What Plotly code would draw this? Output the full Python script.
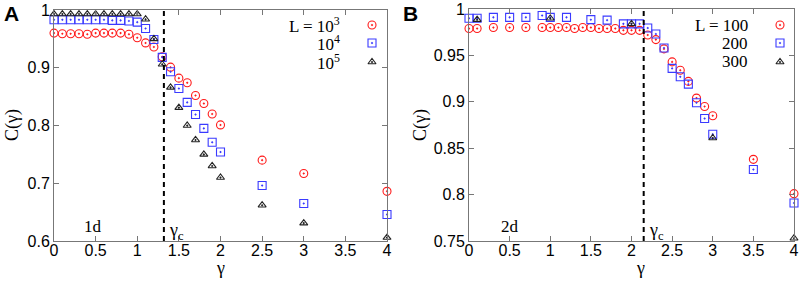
import plotly.graph_objects as go

# ---------------- data ----------------
# Panel A (1d)
xA = [0, 0.1, 0.2, 0.3, 0.4, 0.5, 0.6, 0.7, 0.8, 0.9, 1.0, 1.1, 1.2, 1.3, 1.4, 1.5,
      1.6, 1.7, 1.8, 1.9, 2.0, 2.5, 3.0, 4.0]
A_L1e3 = [0.960, 0.959, 0.959, 0.959, 0.958, 0.960, 0.960, 0.960, 0.960, 0.958, 0.952,
          0.943, 0.936, 0.919, 0.901, 0.882, 0.874, 0.852, 0.838, 0.820, 0.801, 0.740,
          0.717, 0.686]
A_L1e4 = [0.983, 0.983, 0.983, 0.983, 0.983, 0.983, 0.983, 0.982, 0.982, 0.981, 0.979,
          0.968, 0.949, 0.918, 0.893, 0.864, 0.840, 0.819, 0.795, 0.771, 0.754, 0.696,
          0.665, 0.646]
A_L1e5 = [0.993, 0.993, 0.993, 0.993, 0.993, 0.993, 0.993, 0.993, 0.993, 0.993, 0.993,
          0.984, 0.950, 0.906, 0.866, 0.831, 0.800, 0.775, 0.750, 0.730, 0.710, 0.662,
          0.631, 0.606]
gamma_c_A = 1.32

# Panel B (2d)
xB_100 = [0, 0.1, 0.3, 0.5, 0.7, 0.9, 1.0, 1.1, 1.2, 1.3, 1.4, 1.5, 1.6, 1.7, 1.8, 1.9,
          2.0, 2.1, 2.2, 2.3, 2.4, 2.5, 2.6, 2.7, 2.8, 2.9, 3.0, 3.5, 4.0]
B_L100 = [0.979, 0.979, 0.980, 0.980, 0.980, 0.980, 0.980, 0.980, 0.980, 0.979, 0.980,
          0.980, 0.979, 0.979, 0.979, 0.977, 0.977, 0.977, 0.972, 0.967, 0.957, 0.943,
          0.934, 0.922, 0.904, 0.895, 0.885, 0.838, 0.801]
xB_200 = [0, 0.1, 0.3, 0.5, 0.7, 0.9, 1.0, 1.2, 1.5, 1.7, 1.9, 2.0, 2.1, 2.2, 2.3, 2.4,
          2.5, 2.6, 2.7, 2.8, 2.9, 3.0, 3.5, 4.0]
B_L200 = [0.990, 0.990, 0.991, 0.991, 0.991, 0.993, 0.991, 0.991, 0.9885, 0.988, 0.984,
          0.984, 0.984, 0.9795, 0.973, 0.958, 0.936, 0.927, 0.919, 0.899, 0.882, 0.865,
          0.827, 0.791]
xB_300 = [0.1, 1.0, 2.0, 3.0, 4.0]
B_L300 = [0.9885, 0.990, 0.984, 0.861, 0.753]
gamma_c_B = 2.15

x_ticks = [0, 0.5, 1, 1.5, 2, 2.5, 3, 3.5, 4]
x_ticktext = ["0", "0.5", "1", "1.5", "2", "2.5", "3", "3.5", "4"]
yA_ticks = [0.6, 0.7, 0.8, 0.9, 1.0]
yA_ticktext = ["0.6", "0.7", "0.8", "0.9", "1"]
yB_ticks = [0.75, 0.8, 0.85, 0.9, 0.95, 1.0]
yB_ticktext = ["0.75", "0.8", "0.85", "0.9", "0.95", "1"]

legA = ["L = 10<sup>3</sup>", "10<sup>4</sup>", "10<sup>5</sup>"]
legB = ["L = 100", "200", "300"]

# ---------------- style ----------------
W, H = 803, 281
RED = "#ff1a1a"
BLUE = "#3a3aff"
BLK = "#222222"
AXC = "#777777"
SERIF = "Liberation Serif, Times New Roman, serif"
SANS = "Liberation Sans, Arial, sans-serif"

def px_x(p):
    return p / W

def px_y(p):
    return 1 - p / H

A_box = (54, 387, 10, 241)   # left, right, top, bottom in pixels
B_box = (469, 794, 9, 241)
A_yr = [0.6, 1.0]
B_yr = [0.75, 1.0]

def to_data(box, yr, px, py):
    l, r, t, b = box
    return (px - l) / (r - l) * 4.0, yr[0] + (b - py) / (b - t) * (yr[1] - yr[0])

fig = go.Figure()

def mk(sym, color, size):
    return dict(symbol=sym, size=size, color=color, line=dict(color=color, width=1.1))

series = [
    ("x", "y", xA, A_L1e3, "circle-open-dot", RED, 8),
    ("x", "y", xA, A_L1e4, "square-open-dot", BLUE, 8),
    ("x", "y", xA, A_L1e5, "triangle-up-open-dot", BLK, 7),
    ("x2", "y2", xB_100, B_L100, "circle-open-dot", RED, 8),
    ("x2", "y2", xB_200, B_L200, "square-open-dot", BLUE, 8),
    ("x2", "y2", xB_300, B_L300, "triangle-up-open-dot", BLK, 7),
]
for xa, ya, xs, ys, sym, col, sz in series:
    fig.add_trace(go.Scatter(x=xs, y=ys, mode="markers", xaxis=xa, yaxis=ya,
                             marker=mk(sym, col, sz), cliponaxis=False,
                             showlegend=False, hoverinfo="skip"))

# legend keys
rows = [25, 43, 62]
keys = [("circle-open-dot", RED, 8), ("square-open-dot", BLUE, 8),
        ("triangle-up-open-dot", BLK, 7)]
for xa, ya, box, yr, kx in [("x", "y", A_box, A_yr, 372), ("x2", "y2", B_box, B_yr, 780)]:
    for ry, (sym, col, sz) in zip(rows, keys):
        dx, dy = to_data(box, yr, kx, ry)
        fig.add_trace(go.Scatter(x=[dx], y=[dy], mode="markers", xaxis=xa, yaxis=ya,
                                 marker=mk(sym, col, sz), cliponaxis=False,
                                 showlegend=False, hoverinfo="skip"))

axis_common = dict(showline=True, linecolor=AXC, linewidth=1, mirror="allticks",
                   ticks="inside", ticklen=5, tickcolor=AXC, showgrid=False,
                   zeroline=False, automargin=False,
                   tickfont=dict(family=SANS, size=16, color="black"))

fig.update_layout(
    width=W, height=H, margin=dict(l=0, r=0, t=0, b=0, autoexpand=False),
    paper_bgcolor="white", plot_bgcolor="white",
    xaxis=dict(domain=[px_x(A_box[0]), px_x(A_box[1])], range=[0, 4], tickvals=x_ticks,
               ticktext=x_ticktext, anchor="y", ticklabelstandoff=-5, **axis_common),
    yaxis=dict(domain=[px_y(A_box[3]), px_y(A_box[2])], range=A_yr, tickvals=yA_ticks,
               ticktext=yA_ticktext, anchor="x", **axis_common),
    xaxis2=dict(domain=[px_x(B_box[0]), px_x(B_box[1])], range=[0, 4], tickvals=x_ticks,
                ticktext=x_ticktext, anchor="y2", ticklabelstandoff=-5, **axis_common),
    yaxis2=dict(domain=[px_y(B_box[3]), px_y(B_box[2])], range=B_yr, tickvals=yB_ticks,
                ticktext=yB_ticktext, anchor="x2", **axis_common),
)

# critical gamma dashed lines
for xr, yr, gc in [("x", "y domain", gamma_c_A), ("x2", "y2 domain", gamma_c_B)]:
    fig.add_shape(type="line", xref=xr, yref=yr, x0=gc, x1=gc, y0=0, y1=1,
                  line=dict(color="black", width=2, dash="5px,4px"))

ann = []
# axis titles
for cx in [220, 640]:
    ann.append(dict(text="γ", x=px_x(cx), y=px_y(268), xanchor="center", yanchor="middle",
                    font=dict(family=SERIF, size=18, color="black")))
for cx in [12, 420]:
    ann.append(dict(text="C(γ)", x=px_x(cx), y=px_y(125), xanchor="center",
                    yanchor="middle", textangle=-90,
                    font=dict(family=SERIF, size=18, color="black")))
# panel letters
ann.append(dict(text="<b>A</b>", x=px_x(2), y=px_y(14), xanchor="left", yanchor="middle",
                font=dict(family=SANS, size=21, color="black")))
ann.append(dict(text="<b>B</b>", x=px_x(401), y=px_y(14), xanchor="left", yanchor="middle",
                font=dict(family=SANS, size=21, color="black")))
# dimension labels
ann.append(dict(text="1d", x=px_x(93), y=px_y(226), xanchor="center", yanchor="middle",
                font=dict(family=SERIF, size=17, color="black")))
ann.append(dict(text="2d", x=px_x(510), y=px_y(226), xanchor="center", yanchor="middle",
                font=dict(family=SERIF, size=17, color="black")))
# gamma_c labels
for xr, gc in [("x", gamma_c_A), ("x2", gamma_c_B)]:
    ann.append(dict(text="γ<sub>c</sub>", xref=xr, x=gc, xshift=3, y=px_y(231),
                    xanchor="left", yanchor="middle",
                    font=dict(family=SERIF, size=18, color="black")))
# legend texts
for i, t in enumerate(legA):
    ann.append(dict(text=t, x=px_x(342), y=px_y(rows[i]), xanchor="right",
                    yanchor="middle", font=dict(family=SERIF, size=17, color="black")))
for i, t in enumerate(legB):
    ann.append(dict(text=t, x=px_x(750), y=px_y(rows[i]), xanchor="right",
                    yanchor="middle", font=dict(family=SERIF, size=17, color="black")))
for a in ann:
    a.setdefault("xref", "paper")
    a["yref"] = "paper"
    a["showarrow"] = False
fig.update_layout(annotations=ann)

fig.write_html("out.html",
               config={"displayModeBar": False, "staticPlot": True},
               post_script="document.body.style.margin='0px';"
                           "document.body.style.overflow='hidden';")
